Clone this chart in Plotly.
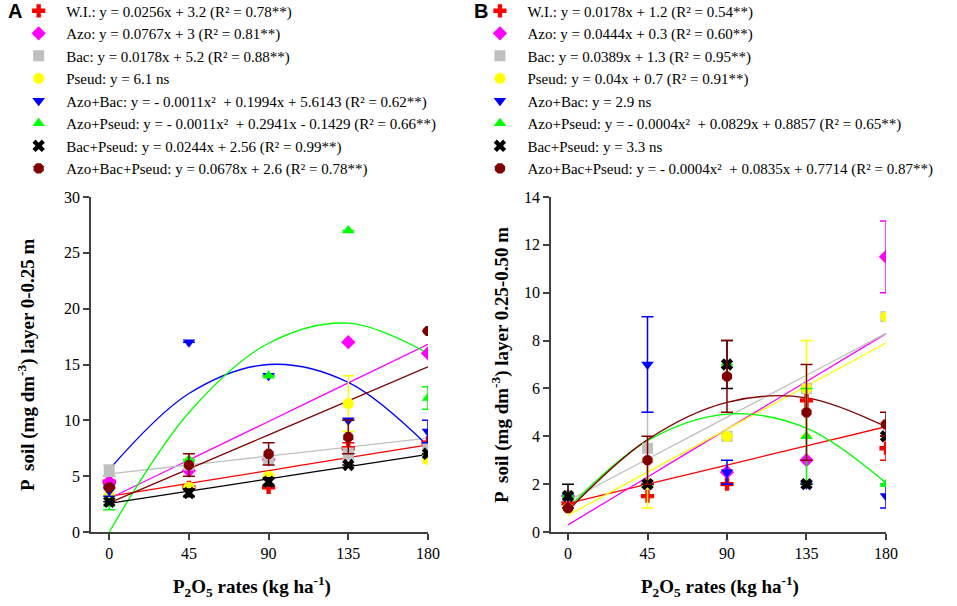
import plotly.graph_objects as go

rates = [0, 45, 90, 135, 180]

names = ["W.I.", "Azo", "Bac", "Pseud", "Azo+Bac", "Azo+Pseud", "Bac+Pseud", "Azo+Bac+Pseud"]
colors = ["#ff0000", "#ff00ff", "#c0c0c0", "#ffff00", "#0000ff", "#00ff00", "#000000", "#800000"]
symbols = ["cross", "diamond", "square", "circle", "triangle-down", "triangle-up", "x", "octagon"]

# legend texts (equations as printed)
labels_a = [
    "W.I.: y = 0.0256x + 3.2 (R² = 0.78**)",
    "Azo: y = 0.0767x + 3 (R² = 0.81**)",
    "Bac: y = 0.0178x + 5.2 (R² = 0.88**)",
    "Pseud: y = 6.1 ns",
    "Azo+Bac: y = - 0.0011x²  + 0.1994x + 5.6143 (R² = 0.62**)",
    "Azo+Pseud: y = - 0.0011x²  + 0.2941x - 0.1429 (R² = 0.66**)",
    "Bac+Pseud: y = 0.0244x + 2.56 (R² = 0.99**)",
    "Azo+Bac+Pseud: y = 0.0678x + 2.6 (R² = 0.78**)",
]
labels_b = [
    "W.I.: y = 0.0178x + 1.2 (R² = 0.54**)",
    "Azo: y = 0.0444x + 0.3 (R² = 0.60**)",
    "Bac: y = 0.0389x + 1.3 (R² = 0.95**)",
    "Pseud: y = 0.04x + 0.7 (R² = 0.91**)",
    "Azo+Bac: y = 2.9 ns",
    "Azo+Pseud: y = - 0.0004x²  + 0.0829x + 0.8857 (R² = 0.65**)",
    "Bac+Pseud: y = 3.3 ns",
    "Azo+Bac+Pseud: y = - 0.0004x²  + 0.0835x + 0.7714 (R² = 0.87**)",
]

# layer 0-0.25 m: means and error bars
a_means = [
    [4.5, 4.0, 4.0, 7.5, 8.0],
    [4.5, 5.5, 6.5, 17.0, 16.0],
    [5.5, 6.0, 6.5, 7.0, 7.5],
    [3.3, 4.0, 5.0, 11.5, 6.5],
    [3.7, 17.0, 14.0, 10.0, 9.0],
    [2.5, 6.5, 14.0, 27.0, 12.0],
    [2.7, 3.5, 4.5, 6.0, 7.0],
    [4.0, 6.0, 7.0, 8.5, 18.0],
]
a_err = [
    [0.5, None, None, 0.5, None],
    [None, None, None, None, None],
    [0.5, None, None, 0.5, None],
    [None, None, None, 2.5, 0.3],
    [0.5, None, None, None, 1.0],
    [0.5, None, None, None, 1.0],
    [None, 0.35, 0.35, None, None],
    [None, 1.0, 1.0, 1.5, None],
]
# fitted curves read at each rate (None = no fit drawn)
a_fit = [
    [3.2, 4.35, 5.5, 6.66, 7.8],
    [3.0, 6.45, 9.9, 13.35, 16.8],
    [5.2, 6.0, 6.8, 7.6, 8.4],
    None,
    [5.6, 12.4, 15.0, 13.4, 7.7],
    [0.0, 10.7, 16.9, 18.7, 16.0],
    [2.56, 3.66, 4.76, 5.85, 6.95],
    [2.6, 5.65, 8.7, 11.75, 14.8],
]

# layer 0.25-0.50 m
b_means = [
    [1.2, 1.5, 2.0, 5.5, 3.5],
    [1.5, 2.0, 2.5, 3.0, 11.5],
    [1.5, 3.5, 4.0, 6.0, 9.0],
    [1.0, 2.0, 4.0, 6.0, 9.0],
    [1.5, 7.0, 2.5, 2.0, 1.5],
    [1.5, 2.0, 7.0, 4.0, 2.0],
    [1.5, 2.0, 7.0, 2.0, 4.0],
    [1.0, 3.0, 6.5, 5.0, 4.5],
]
b_err = [
    [None, None, None, None, 0.5],
    [None, None, None, None, 1.5],
    [None, 1.5, None, None, None],
    [None, 1.0, None, 2.0, None],
    [None, 2.0, 0.5, None, 0.5],
    [None, None, None, 2.0, None],
    [0.5, None, 1.0, None, None],
    [None, 1.0, 1.5, 2.0, 0.5],
]
b_fit = [
    [1.2, 2.0, 2.8, 3.6, 4.4],
    [0.3, 2.3, 4.3, 6.29, 8.29],
    [1.3, 3.05, 4.8, 6.55, 8.3],
    [0.7, 2.5, 4.3, 6.1, 7.9],
    None,
    [1.0, 3.82, 4.93, 4.34, 2.05],
    None,
    [0.9, 3.86, 5.42, 5.61, 4.4],
]

SERIF = "Liberation Serif"
GAP = "\u00a0" * 2  # extra room between legend symbol and text

fig = go.Figure()


def add_panel(means, errs, fits, xa, ya):
    for i, fit in enumerate(fits):
        if fit is None:
            continue
        fig.add_trace(go.Scatter(
            x=rates, y=fit, mode="lines", line=dict(color=colors[i], width=1.3, shape="spline"),
            xaxis=xa, yaxis=ya, showlegend=False, hoverinfo="skip",
        ))
    for i, vals in enumerate(means):
        fig.add_trace(go.Scatter(
            x=rates, y=vals, mode="markers",
            marker=dict(color=colors[i], symbol=symbols[i], size=11, line=dict(width=0)),
            error_y=dict(type="data", array=errs[i], visible=True, color=colors[i], thickness=1.5, width=6),
            xaxis=xa, yaxis=ya, showlegend=False, name=names[i],
        ))


add_panel(a_means, a_err, a_fit, "x", "y")
add_panel(b_means, b_err, b_fit, "x2", "y2")

# legend entries
for leg, labels in (("legend", labels_a), ("legend2", labels_b)):
    for i, lab in enumerate(labels):
        fig.add_trace(go.Scatter(
            x=[None], y=[None], mode="markers", name=GAP + lab, legend=leg,
            marker=dict(color=colors[i], symbol=symbols[i], size=11, line=dict(width=0)),
        ))

axis_style = dict(
    showline=True, linecolor="#404040", linewidth=1.5, ticks="outside", ticklen=6,
    tickcolor="#404040", tickwidth=1.5, showgrid=False, zeroline=False,
    tickfont=dict(family=SERIF, size=16, color="black"),
)
y_dom = [0.1221, 0.6749]
leg_font = dict(family=SERIF, size=15, color="black")
fig.update_layout(
    width=957, height=606, margin=dict(l=0, r=0, t=0, b=0, autoexpand=False),
    paper_bgcolor="white", plot_bgcolor="white",
    font=dict(family=SERIF, color="black"),
    xaxis=dict(domain=[0.0951, 0.4472], range=[-10.3, 180], tickvals=rates, anchor="y", **axis_style),
    yaxis=dict(domain=y_dom, range=[0, 30], tickvals=[0, 5, 10, 15, 20, 25, 30], anchor="x", **axis_style),
    xaxis2=dict(domain=[0.5758, 0.9258], range=[-9.6, 180], tickvals=rates, anchor="y2", **axis_style),
    yaxis2=dict(domain=y_dom, range=[0, 14], tickvals=list(range(0, 15, 2)), anchor="x2", **axis_style),
    legend=dict(x=0.0195, y=1.009, xanchor="left", yanchor="top", bgcolor="rgba(0,0,0,0)",
                font=leg_font, itemwidth=30, tracegroupgap=0),
    legend2=dict(x=0.5015, y=1.009, xanchor="left", yanchor="top", bgcolor="rgba(0,0,0,0)",
                 font=leg_font, itemwidth=30, tracegroupgap=0),
)

xtitle = "<b>P<sub>2</sub>O<sub>5</sub> rates (kg ha<sup>-1</sup>)</b>"
ann = [
    dict(text="<b>A</b>", x=15, y=11, font=dict(family="Liberation Sans", size=20)),
    dict(text="<b>B</b>", x=481, y=11, font=dict(family="Liberation Sans", size=20)),
    dict(text=xtitle, x=252, y=586, font=dict(family=SERIF, size=19)),
    dict(text=xtitle, x=720, y=586, font=dict(family=SERIF, size=19)),
    dict(text="<b>P  soil (mg dm<sup>-3</sup>) layer 0-0.25 m</b>", x=26, y=365, textangle=-90,
         font=dict(family=SERIF, size=19)),
    dict(text="<b>P  soil (mg dm<sup>-3</sup>) layer 0.25-0.50 m</b>", x=500, y=365, textangle=-90,
         font=dict(family=SERIF, size=19)),
]
for a in ann:
    fig.add_annotation(
        text=a["text"], x=a["x"] / 957, y=1 - a["y"] / 606, xref="paper", yref="paper",
        showarrow=False, xanchor="center", yanchor="middle", textangle=a.get("textangle", 0),
        font=dict(color="black", **a["font"]),
    )

# the page's default body margin would shift the figure by 8px
fig.write_html(
    "out.html",
    config={"displayModeBar": False},
    post_script="document.body.style.margin = '0';",
)
